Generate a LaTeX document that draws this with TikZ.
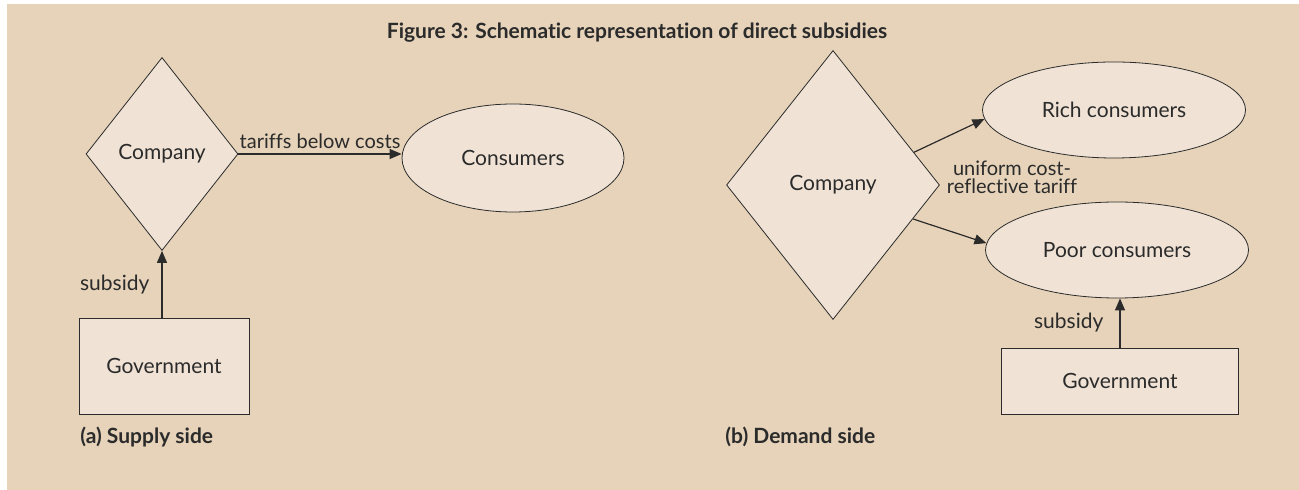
\documentclass[tikz,border=0pt]{standalone}
\usepackage{fontspec}
\setmainfont{Lato}[Ligatures=NoCommon]
\usetikzlibrary{shapes.geometric,arrows.meta}
\definecolor{paper}{HTML}{E6D3B9}
\definecolor{boxfill}{HTML}{F0E3D5}
\definecolor{ink}{HTML}{2B2B2B}
\tikzset{
	firm/.style={diamond, draw=ink, fill=boxfill, inner sep=0pt},
	market/.style={ellipse, draw=ink, fill=boxfill, inner sep=0pt},
	agency/.style={rectangle, draw=ink, fill=boxfill, inner sep=0pt},
	flow/.style={-{Triangle[length=6pt,width=5pt]}, draw=ink, line width=0.6pt},
	caption/.style={font=\fontsize{10.5}{12}\bfseries, anchor=west, inner sep=0pt}
}
\begin{document}
\begin{tikzpicture}[x=0.5pt, y=-0.5pt, font=\fontsize{10.5}{12}\selectfont, text=ink]
	% background
	\fill[white] (0,0) rectangle (1299,490);
	\fill[paper] (7,4) rectangle (1299,490);
	\useasboundingbox (0,0) rectangle (1299,490);
	
	\node[font=\fontsize{10.5}{12}\bfseries] (title) at (637,33) {Figure 3: Schematic representation of direct subsidies};
	
	% (a) supply side
	\node[firm, minimum width=76pt, minimum height=96.5pt] (firmA) at (162,154) {Company};
	\node[market, minimum width=111pt, minimum height=54pt] (usersA) at (513,158) {Consumers};
	\node[agency, minimum width=85pt, minimum height=48pt] (govA) at (164,366) {Government};
	\draw[flow] (firmA.east) -- node[above, inner sep=2.5pt, font=\fontsize{10}{12}\selectfont] {tariffs below costs} (usersA.west |- firmA.east);
	\draw[flow] (govA.north -| firmA.south) -- node[left, inner sep=6pt] {subsidy} (firmA.south);
	\node[caption] (capA) at (80,437) {(a) Supply side};
	
	% (b) demand side
	\node[firm, minimum width=106.5pt, minimum height=134.5pt] (firmB) at (833,185) {Company};
	\node[market, minimum width=131.5pt, minimum height=48pt] (rich) at (1114,110) {Rich consumers};
	\node[market, minimum width=131.5pt, minimum height=48pt] (poor) at (1117,250) {Poor consumers};
	\node[agency, minimum width=118.5pt, minimum height=33pt] (govB) at (1120,381) {Government};
	\draw[flow] (firmB.22) -- (rich.184);
	\draw[flow] (firmB.-23) -- (poor.177);
	\node[align=center, inner sep=0pt, font=\fontsize{10}{9}\selectfont] (tariff) at (1012,177) {uniform cost-\\reflective tariff};
	\draw[flow] (govB.north) -- node[left, inner sep=8pt] {subsidy} (govB.north |- poor.south);
	\node[caption] (capB) at (725,437) {(b) Demand side};
\end{tikzpicture}
\end{document}
